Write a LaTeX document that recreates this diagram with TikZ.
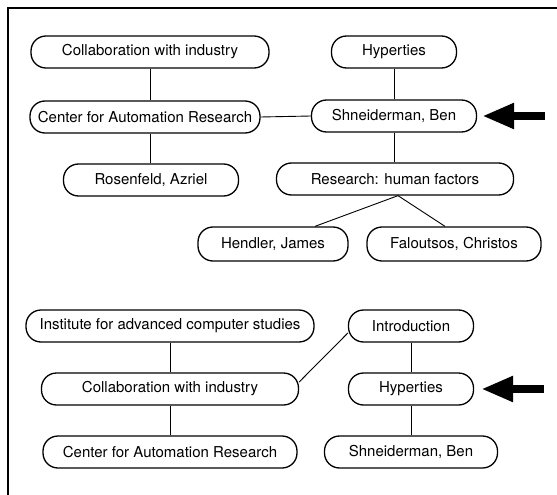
\documentclass[tikz,border=0pt]{standalone}
\usepackage{fontspec}
\setmainfont{TeX Gyre Heros}
\usetikzlibrary{arrows.meta}
\tikzset{
  topic/.style={draw, line width=1.3pt, rounded corners=15pt, minimum height=32pt, inner sep=0pt, font=\fontsize{15}{17}\selectfont},
  link/.style={line width=0.9pt},
  pointer/.style={line width=8pt, -{Triangle[length=32pt,width=24pt]}},
}
\begin{document}
\begin{tikzpicture}[x=1pt,y=-1pt]
  \useasboundingbox (0,0) rectangle (557,495);
  % 外框
  \draw[line width=1.3pt] (8,495) -- (8,8) -- (557,8);
  % 上半部分
  \node[topic, minimum width=238pt] (collabA) at (150,52) {Collaboration with industry};
  \node[topic, minimum width=230pt] (carA) at (145,117) {Center for Automation Research};
  \node[topic, minimum width=175pt] (rosenfeld) at (151,180) {Rosenfeld, Azriel};
  \node[topic, minimum width=125pt] (hypA) at (394,52) {Hyperties};
  \node[topic, minimum width=165pt] (shnA) at (394,116) {Shneiderman, Ben};
  \node[topic, minimum width=237pt] (research) at (395,179) {Research: human factors};
  \node[topic, minimum width=150pt, minimum height=34pt] (hendler) at (273,244) {Hendler, James};
  \node[topic, minimum width=174pt, minimum height=34pt] (faloutsos) at (454,244) {Faloutsos, Christos};
  \draw[link] (collabA.south) -- (collabA.south |- carA.north);
  \draw[link] (collabA.south |- carA.south) -- (collabA.south |- rosenfeld.north);
  \draw[link] (carA.east) -- (shnA.west);
  \draw[link] (hypA) -- (shnA);
  \draw[link] (shnA.south) -- (shnA.south |- research.north);
  \draw[link] ([xshift=3pt]research.south) -- ([xshift=42pt]hendler.north);
  \draw[link] ([xshift=3pt]research.south) -- ([xshift=-9pt]faloutsos.north);
  % 箭头
  \coordinate (tailA) at (545,116);
  \draw[pointer] (tailA) -- ([xshift=5pt]shnA.east);
  % 下半部分
  \node[topic, minimum width=288pt] (institute) at (170,326) {Institute for advanced computer studies};
  \node[topic, minimum width=257pt] (collabB) at (170,389) {Collaboration with industry};
  \node[topic, minimum width=254pt] (carB) at (170,452) {Center for Automation Research};
  \node[topic, minimum width=125pt] (intro) at (411,326) {Introduction};
  \node[topic, minimum width=125pt] (hypB) at (411,389) {Hyperties};
  \node[topic, minimum width=173pt] (shnB) at (411,452) {Shneiderman, Ben};
  \draw[link] (institute) -- (collabB);
  \draw[link] (collabB) -- (carB);
  \draw[link] ([yshift=7pt]collabB.east) -- ([yshift=-7pt]intro.west);
  \draw[link] (intro) -- (hypB);
  \draw[link] (hypB) -- (shnB);
  % 箭头
  \coordinate (tailB) at (544,389);
  \draw[pointer] (tailB) -- ([xshift=7pt]hypB.east);
\end{tikzpicture}
\end{document}
